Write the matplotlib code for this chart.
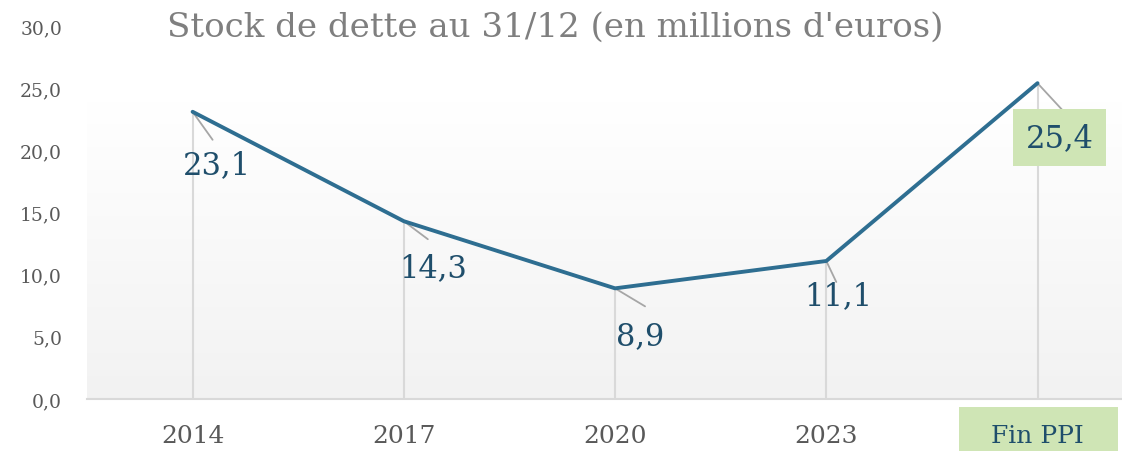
import numpy as np
import matplotlib
matplotlib.use("Agg")
import matplotlib.pyplot as plt
from matplotlib.patches import Rectangle

categories = ["2014", "2017", "2020", "2023", "Fin PPI"]
values = [23.1, 14.3, 8.9, 11.1, 25.4]
y_ticks = [0, 5, 10, 15, 20, 25, 30]
title = "Stock de dette au 31/12 (en millions d'euros)"

# label placement (pixel offsets from each point) and leader line ends
label_offsets = [(24, -53), (29, -46), (25, -47), (12, -35), (22, -54)]
leader_ends = [(20, -28), (24, -18), (30, -18), (10, -21), (25, -27)]

line_color = "#2e6e91"
label_color = "#1f4e6b"
green = "#cfe5b5"
font = "DejaVu Serif"

fig = plt.figure(figsize=(11.22, 4.52), dpi=100)
ax = fig.add_axes([87 / 1122, 52 / 452, 1 - 87 / 1122, 373 / 452])
x = np.arange(len(categories))

ax.set_xlim(-0.5, 4.4)
ax.set_ylim(0, 30)

# soft gradient background of the plot area
grad = np.linspace(0, 1, 256).reshape(-1, 1)
cmap = matplotlib.colors.LinearSegmentedColormap.from_list("bg", ["#f2f2f2", "#ffffff"])
ax.imshow(grad, extent=(-0.5, 4.4, 0, 23.9), origin="lower", aspect="auto",
          cmap=cmap, zorder=0)

# drop lines
for xi, v in zip(x, values):
    ax.plot([xi, xi], [0, v], color="#d9d9d9", lw=1.5, zorder=1)

ax.plot(x, values, color=line_color, lw=2.8, solid_capstyle="round",
        solid_joinstyle="round", zorder=3)

for i, (xi, v) in enumerate(zip(x, values)):
    lx, ly = leader_ends[i]
    ax.annotate("", xy=(xi, v), xytext=(lx, ly), textcoords="offset pixels",
                arrowprops=dict(arrowstyle="-", color="#a6a6a6", lw=1.3,
                                shrinkA=0, shrinkB=0), zorder=2)
    ox, oy = label_offsets[i]
    box = None
    if i == len(values) - 1:
        box = dict(boxstyle="square,pad=0.42", fc=green, ec="none")
    ax.annotate(f"{v:.1f}".replace(".", ","), xy=(xi, v), xytext=(ox, oy),
                textcoords="offset pixels", ha="center", va="center",
                fontsize=22, color=label_color, family=font, bbox=box, zorder=4)

for s in ["top", "right", "left"]:
    ax.spines[s].set_visible(False)
ax.spines["bottom"].set_color("#d9d9d9")
ax.spines["bottom"].set_linewidth(1.5)

ax.set_yticks(y_ticks)
ax.set_yticklabels([f"{t:.1f}".replace(".", ",") for t in y_ticks],
                   fontsize=13.5, color="#595959", family=font)
ax.set_xticks(x)
ax.set_xticklabels(categories, fontsize=18, color="#595959", family=font)
ax.tick_params(axis="y", length=0, pad=18)
ax.tick_params(axis="x", length=0, pad=18)
ax.get_xticklabels()[-1].set_color(label_color)

# green box behind the last category label
trans = matplotlib.transforms.blended_transform_factory(ax.transData, ax.transAxes)
ax.add_patch(Rectangle((3.63, -0.139), 0.75, 0.118, transform=trans,
                       fc=green, ec="none", clip_on=False, zorder=0))

fig.text(555 / 1122, 1 - 28 / 452, title, ha="center", va="center",
         fontsize=24.5, color="#7f7f7f", family=font)

fig.savefig("out.png", dpi=100)
